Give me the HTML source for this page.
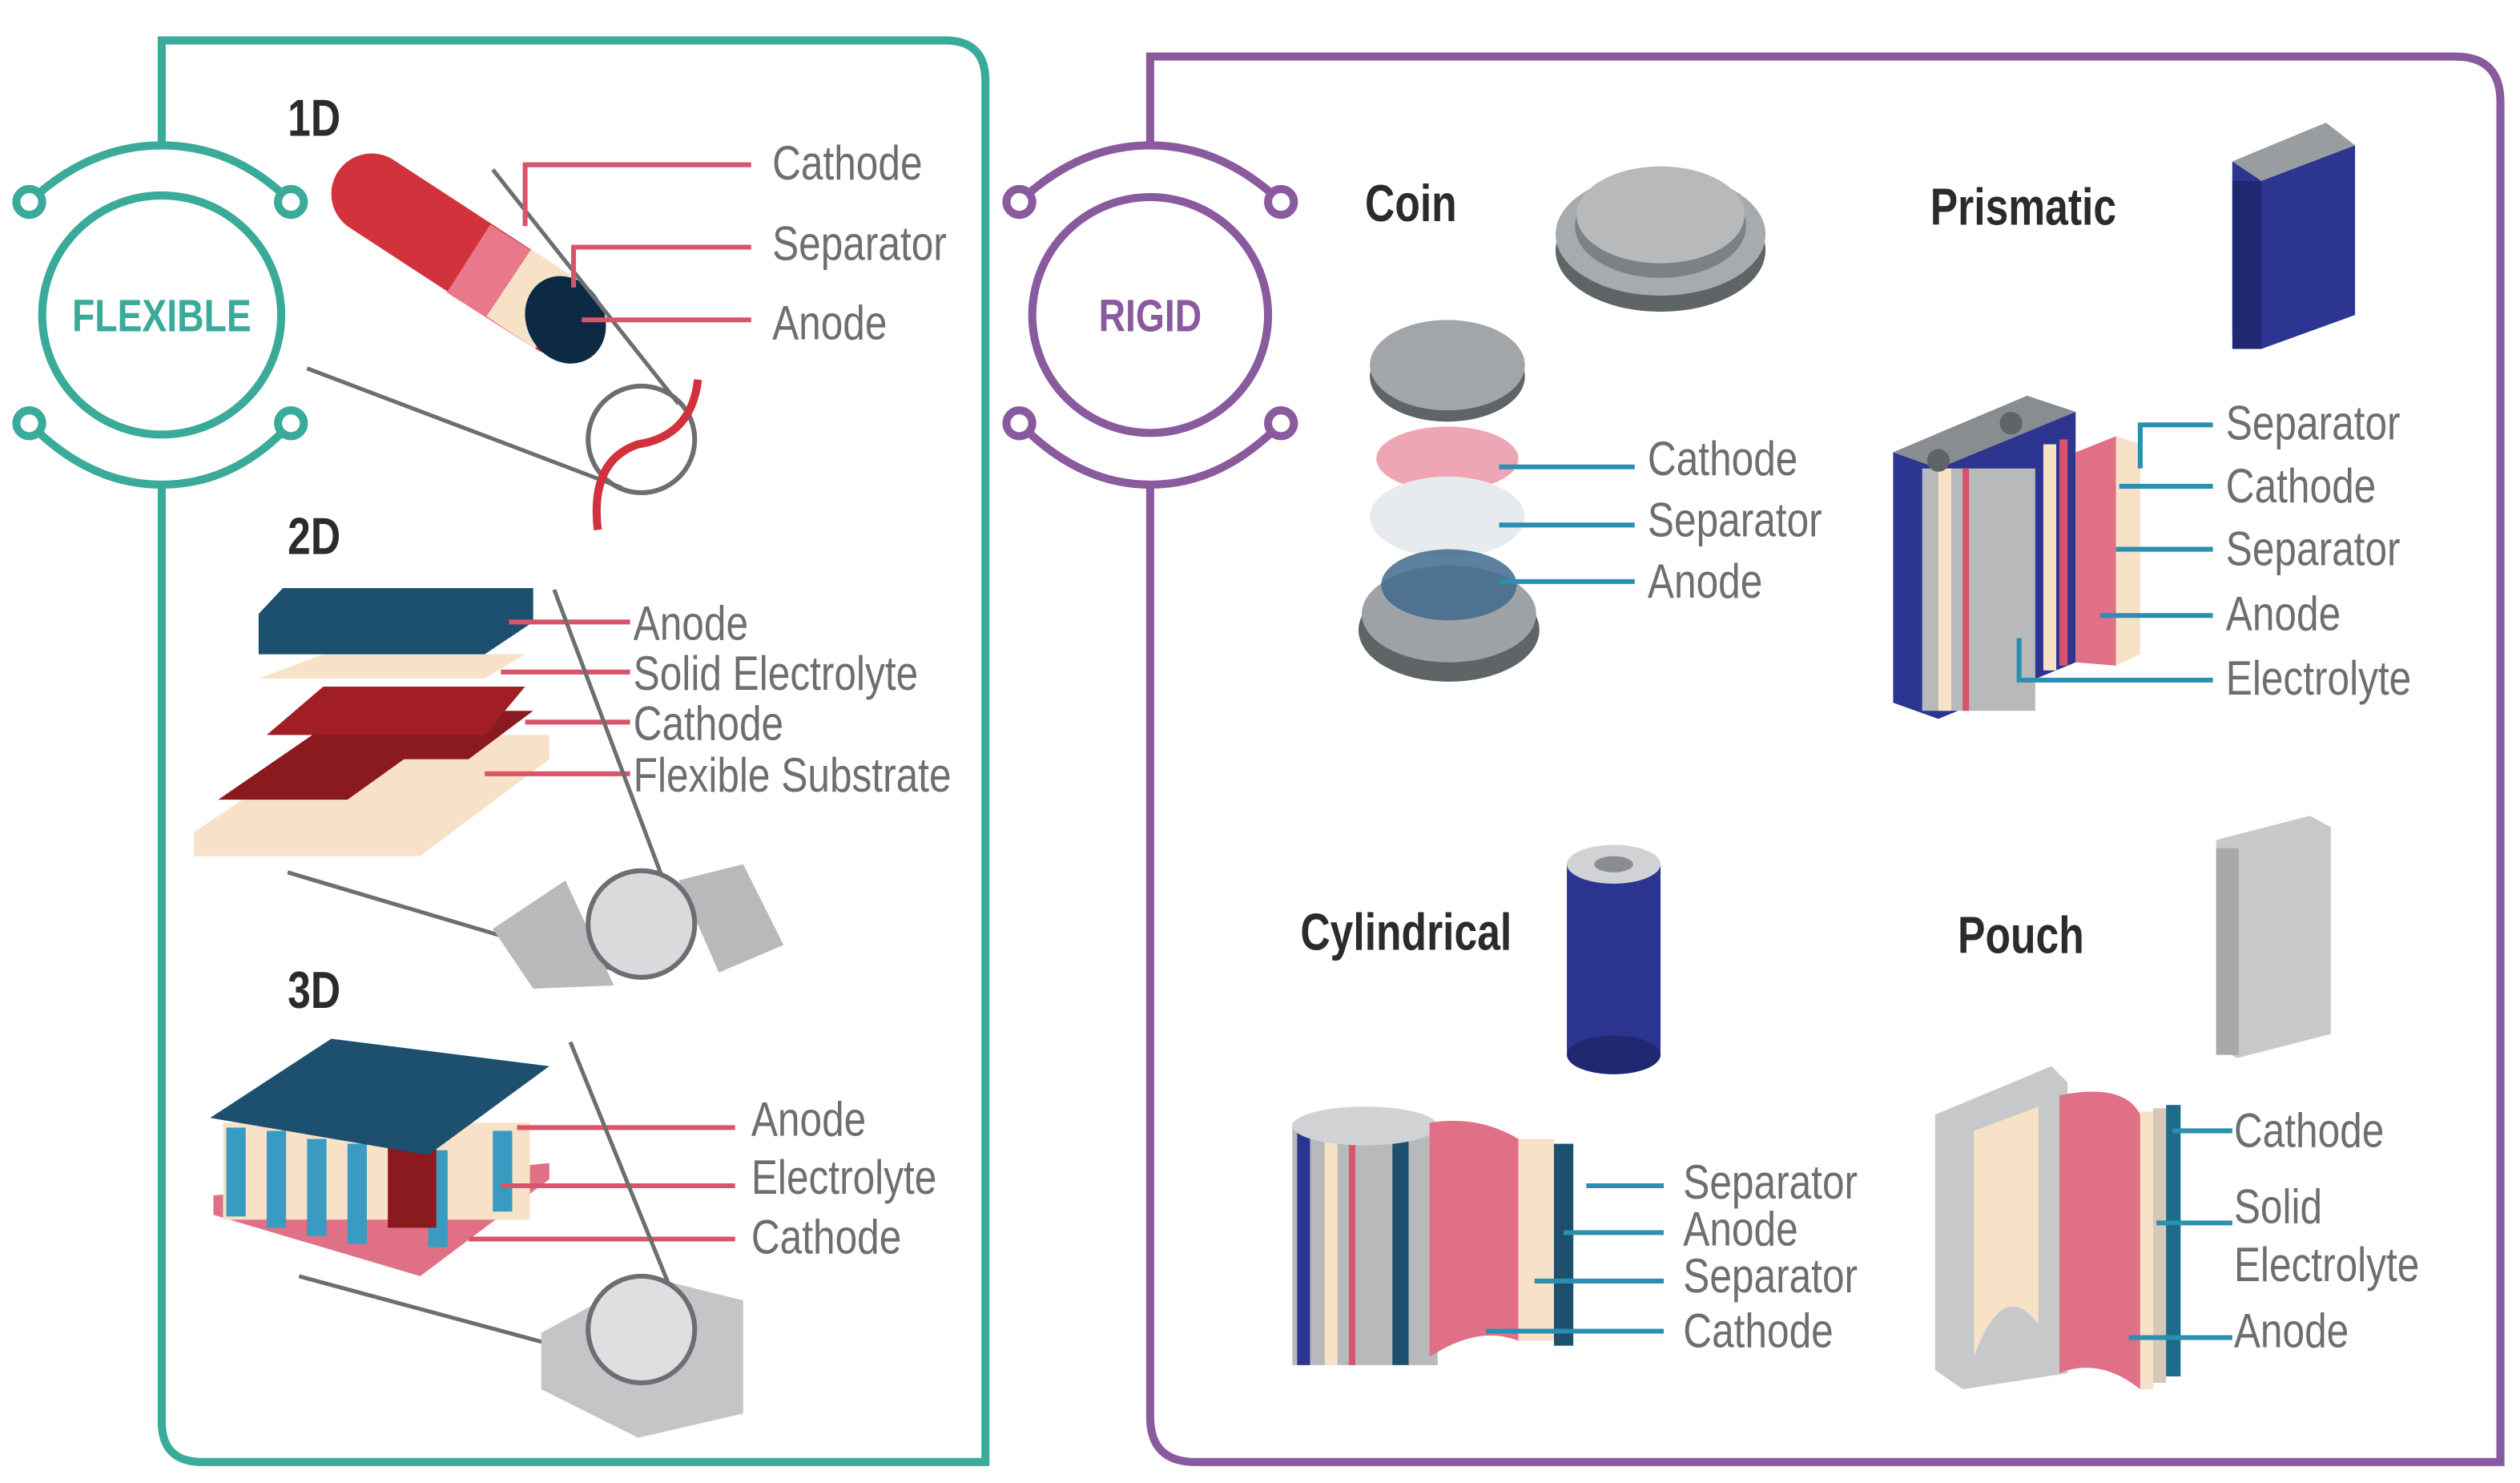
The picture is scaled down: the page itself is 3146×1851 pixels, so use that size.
<!DOCTYPE html>
<html><head><meta charset="utf-8"><style>
html,body{margin:0;padding:0;background:#fff;width:3146px;height:1851px;overflow:hidden}
svg{display:block}
.l{font-family:"Liberation Sans Narrow","Liberation Sans",sans-serif;font-size:30px;fill:#6d6e71;transform-box:fill-box;transform-origin:0 50%;transform:scaleX(0.82)}
.t{font-family:"Liberation Sans Narrow","Liberation Sans",sans-serif;font-size:32px;font-weight:bold;fill:#2b2b2b;transform-box:fill-box;transform-origin:0 50%;transform:scaleX(0.8)}
.c{transform-box:fill-box;transform-origin:50% 50%;transform:scaleX(0.82)}
.pk{stroke:#d9546b;stroke-width:3;fill:none}
.bl{stroke:#2a8fb0;stroke-width:3;fill:none}
.gl{stroke:#6d6e71;stroke-width:2.5;fill:none}
</style></head><body>
<svg width="3146" height="1851" viewBox="0 0 1560 918" xmlns="http://www.w3.org/2000/svg">
<rect width="1560" height="918" fill="#fff"/>
<g stroke="#3aaa9a" stroke-width="5" fill="none">
<path d="M100 88 V25 H585 Q610 25 610 50 V905 H125 Q100 905 100 880 V300"/>
<circle cx="100" cy="195" r="74"/>
<path d="M18 125 Q55 90 100 90 Q145 90 180 125"/>
<path d="M18 262 Q55 300 100 300 Q145 300 180 262"/>
<circle cx="18" cy="125" r="8" fill="#fff"/><circle cx="180" cy="125" r="8" fill="#fff"/>
<circle cx="18" cy="262" r="8" fill="#fff"/><circle cx="180" cy="262" r="8" fill="#fff"/>
</g>
<text class="c" x="100" y="205" text-anchor="middle" font-family="Liberation Sans Narrow,Liberation Sans,sans-serif" font-size="28" font-weight="bold" fill="#3aaa9a">FLEXIBLE</text>
<g stroke="#8a5a9e" stroke-width="5" fill="none">
<path d="M712 88 V35 H1520 Q1548 35 1548 63 V905 H740 Q712 905 712 877 V300"/>
<circle cx="712" cy="195" r="73"/>
<path d="M631 125 Q668 90 712 90 Q756 90 793 125"/>
<path d="M631 262 Q668 300 712 300 Q756 300 793 262"/>
<circle cx="631" cy="125" r="8" fill="#fff"/><circle cx="793" cy="125" r="8" fill="#fff"/>
<circle cx="631" cy="262" r="8" fill="#fff"/><circle cx="793" cy="262" r="8" fill="#fff"/>
</g>
<text class="c" x="712" y="205" text-anchor="middle" font-family="Liberation Sans Narrow,Liberation Sans,sans-serif" font-size="28" font-weight="bold" fill="#8a5a9e">RIGID</text>

<!-- 1D -->
<text class="t" x="178" y="84" font-size="28">1D</text>
<line x1="230" y1="120" x2="345" y2="195" stroke="#d2323c" stroke-width="50" stroke-linecap="round"/>
<line x1="290" y1="160" x2="345" y2="195" stroke="#e8788a" stroke-width="50"/>
<line x1="315" y1="175" x2="345" y2="195" stroke="#f7e2c8" stroke-width="50"/>
<ellipse cx="350" cy="198" rx="24" ry="28" fill="#0d2a45" transform="rotate(-30 350 198)"/>
<line class="gl" x1="305" y1="105" x2="420" y2="250"/>
<line class="gl" x1="190" y1="228" x2="385" y2="302"/>
<circle cx="397" cy="272" r="33" fill="none" stroke="#6d6e71" stroke-width="3"/>
<path d="M432 235 Q428 270 395 275 Q365 285 370 328" stroke="#d2323c" stroke-width="5" fill="none"/>
<path class="pk" d="M465 102 H325 V140"/><path class="pk" d="M465 153 H355 V178"/><path class="pk" d="M465 198 H360"/>
<text class="l" x="478" y="111">Cathode</text><text class="l" x="478" y="161">Separator</text><text class="l" x="478" y="210">Anode</text>

<!-- 2D -->
<text class="t" x="178" y="343" font-size="28">2D</text>
<polygon points="120,515 210,455 340,455 340,470 260,530 120,530" fill="#f7e2c8"/>
<polygon points="135,495 215,440 330,440 290,470 250,470 215,495" fill="#8b1a1f"/>
<polygon points="165,455 200,425 325,425 300,455" fill="#a01e24"/>
<polygon points="160,420 200,405 325,405 300,420" fill="#f7e2c8"/>
<polygon points="160,380 175,364 330,364 330,385 300,405 160,405" fill="#1d4f6e"/>
<line class="pk" x1="315" y1="385" x2="390" y2="385"/><line class="pk" x1="310" y1="416" x2="390" y2="416"/>
<line class="pk" x1="325" y1="447" x2="390" y2="447"/><line class="pk" x1="300" y1="479" x2="390" y2="479"/>
<text class="l" x="392" y="396">Anode</text><text class="l" x="392" y="427">Solid Electrolyte</text>
<text class="l" x="392" y="458">Cathode</text><text class="l" x="392" y="490">Flexible Substrate</text>
<line class="gl" x1="343" y1="365" x2="420" y2="570"/><line class="gl" x1="178" y1="540" x2="380" y2="600"/>
<path d="M305 575 L350 545 L380 610 L330 612 Z M420 545 L460 535 L485 585 L445 602 Z" fill="#b8b9bb"/>
<circle cx="397" cy="572" r="33" fill="#d9dadb" stroke="#6d6e71" stroke-width="3"/>

<!-- 3D -->
<text class="t" x="178" y="624" font-size="28">3D</text>
<polygon points="132,752 260,790 340,730 340,720 132,740" fill="#e07085"/>
<rect x="138" y="695" width="190" height="60" fill="#f7e2c8"/>
<g fill="#3a9bc2"><rect x="140" y="698" width="12" height="55"/><rect x="165" y="700" width="12" height="60"/><rect x="190" y="705" width="12" height="60"/><rect x="215" y="708" width="12" height="62"/><rect x="265" y="712" width="12" height="60"/><rect x="305" y="700" width="12" height="50"/></g>
<rect x="240" y="710" width="30" height="50" fill="#8b1a1f"/>
<polygon points="130,692 205,643 340,660 265,715" fill="#1d4f6e"/>
<line class="pk" x1="320" y1="698" x2="455" y2="698"/><line class="pk" x1="310" y1="734" x2="455" y2="734"/><line class="pk" x1="290" y1="767" x2="455" y2="767"/>
<text class="l" x="465" y="703">Anode</text><text class="l" x="465" y="739">Electrolyte</text><text class="l" x="465" y="776">Cathode</text>
<line class="gl" x1="353" y1="645" x2="420" y2="810"/><line class="gl" x1="185" y1="790" x2="370" y2="840"/>
<polygon points="335,825 400,790 460,805 460,875 395,890 335,860" fill="#c4c5c7"/>
<circle cx="397" cy="823" r="33" fill="#dedfe0" stroke="#6d6e71" stroke-width="3"/>

<!-- Coin -->
<text class="t" x="845" y="137">Coin</text>
<ellipse cx="1028" cy="155" rx="65" ry="38" fill="#5f6466"/>
<ellipse cx="1028" cy="145" rx="65" ry="38" fill="#a8abad"/>
<ellipse cx="1028" cy="140" rx="53" ry="32" fill="#7c8183"/>
<ellipse cx="1028" cy="133" rx="52" ry="30" fill="#b7b9bb"/>
<ellipse cx="896" cy="233" rx="48" ry="28" fill="#5f6466"/>
<ellipse cx="896" cy="226" rx="48" ry="28" fill="#a3a6a8"/>
<ellipse cx="896" cy="284" rx="44" ry="20" fill="#eea6b4"/>
<ellipse cx="896" cy="320" rx="48" ry="25" fill="#e8ebee"/>
<ellipse cx="897" cy="390" rx="56" ry="32" fill="#5f6466"/>
<ellipse cx="897" cy="380" rx="54" ry="30" fill="#9ea2a6"/>
<ellipse cx="897" cy="362" rx="42" ry="22" fill="#3f6a8c" opacity="0.85"/>
<line class="bl" x1="928" y1="289" x2="1012" y2="289"/><line class="bl" x1="928" y1="325" x2="1012" y2="325"/><line class="bl" x1="928" y1="360" x2="1012" y2="360"/>
<text class="l" x="1020" y="294">Cathode</text><text class="l" x="1020" y="332">Separator</text><text class="l" x="1020" y="370">Anode</text>

<!-- Prismatic -->
<text class="t" x="1195" y="139">Prismatic</text>
<polygon points="1382,100 1440,76 1458,90 1458,195 1400,216 1382,205" fill="#2c3590"/>
<polygon points="1382,100 1440,76 1458,90 1400,112" fill="#9a9da0"/>
<rect x="1382" y="112" width="18" height="104" fill="#1f2870"/>
<polygon points="1172,280 1255,245 1285,255 1285,410 1200,445 1172,435" fill="#2c3590"/>
<rect x="1190" y="290" width="70" height="150" fill="#b7b9bb"/>
<g fill="#f7e2c8"><rect x="1200" y="290" width="8" height="150"/><rect x="1265" y="275" width="8" height="140"/></g>
<g fill="#d9546b"><rect x="1215" y="290" width="4" height="150"/><rect x="1275" y="272" width="5" height="140"/></g>
<polygon points="1285,280 1310,270 1310,412 1285,410" fill="#e07085"/>
<polygon points="1310,270 1325,275 1325,405 1310,412" fill="#f7e2c8"/>
<polygon points="1172,280 1255,245 1285,255 1200,290" fill="#8a8d90"/>
<circle cx="1200" cy="285" r="7" fill="#5f6466"/><circle cx="1245" cy="262" r="7" fill="#5f6466"/>
<path class="bl" d="M1370 263 H1325 V290"/><line class="bl" x1="1312" y1="301" x2="1370" y2="301"/>
<line class="bl" x1="1310" y1="340" x2="1370" y2="340"/><line class="bl" x1="1300" y1="381" x2="1370" y2="381"/>
<path class="bl" d="M1250 395 V421 H1370"/>
<text class="l" x="1378" y="272">Separator</text><text class="l" x="1378" y="311">Cathode</text>
<text class="l" x="1378" y="350">Separator</text><text class="l" x="1378" y="390">Anode</text><text class="l" x="1378" y="430">Electrolyte</text>

<!-- Cylindrical -->
<text class="t" x="805" y="588">Cylindrical</text>
<rect x="970" y="535" width="58" height="118" fill="#2c3590"/>
<ellipse cx="999" cy="653" rx="29" ry="12" fill="#1f2870"/>
<ellipse cx="999" cy="535" rx="29" ry="12" fill="#d0d2d4"/>
<ellipse cx="999" cy="535" rx="12" ry="5" fill="#8a8d90"/>
<rect x="800" y="695" width="90" height="150" fill="#b7b9bb"/>
<g><rect x="803" y="700" width="8" height="145" fill="#2c3590"/><rect x="820" y="700" width="8" height="145" fill="#f7e2c8"/><rect x="835" y="700" width="4" height="145" fill="#d9546b"/><rect x="862" y="700" width="10" height="145" fill="#1d4f6e"/></g>
<ellipse cx="845" cy="697" rx="45" ry="12" fill="#d0d2d4"/>
<path d="M885 695 Q915 690 940 705 L940 830 Q915 820 885 840 Z" fill="#e07085"/>
<rect x="940" y="705" width="22" height="125" fill="#f7e2c8"/><rect x="962" y="708" width="12" height="125" fill="#1d4f6e"/>
<line class="bl" x1="982" y1="734" x2="1030" y2="734"/><line class="bl" x1="968" y1="763" x2="1030" y2="763"/>
<line class="bl" x1="950" y1="793" x2="1030" y2="793"/><line class="bl" x1="920" y1="824" x2="1030" y2="824"/>
<text class="l" x="1042" y="742">Separator</text><text class="l" x="1042" y="771">Anode</text>
<text class="l" x="1042" y="800">Separator</text><text class="l" x="1042" y="834">Cathode</text>

<!-- Pouch -->
<text class="t" x="1212" y="590" font-size="30">Pouch</text>
<polygon points="1372,520 1430,505 1443,512 1443,640 1385,655 1372,648" fill="#c7c8ca"/>
<rect x="1372" y="525" width="14" height="128" fill="#a7a9ab"/>
<polygon points="1198,690 1270,660 1280,670 1280,850 1215,860 1198,848" fill="#c7c8ca"/>
<path d="M1222 700 L1262 685 L1262 820 Q1240 790 1222 840 Z" fill="#f7e2c8"/>
<path d="M1275 678 Q1315 670 1325 690 L1325 860 Q1300 840 1275 850 Z" fill="#e07085"/>
<rect x="1325" y="688" width="8" height="172" fill="#f7e2c8"/><rect x="1333" y="686" width="8" height="170" fill="#d7c7b8"/><rect x="1341" y="684" width="9" height="168" fill="#1d6a8a"/>
<path class="bl" d="M1345 700 H1382"/><path class="bl" d="M1335 757 H1382"/><path class="bl" d="M1318 828 H1382"/>
<text class="l" x="1383" y="710">Cathode</text><text class="l" x="1383" y="757">Solid</text>
<text class="l" x="1383" y="793">Electrolyte</text><text class="l" x="1383" y="834">Anode</text>
</svg>
</body></html>
